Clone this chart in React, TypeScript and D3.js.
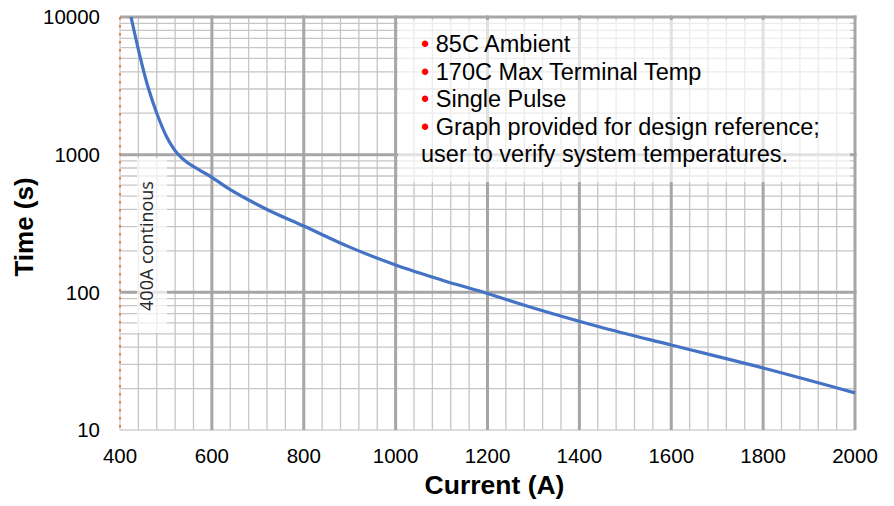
import React from "react";
import * as d3 from "d3";

const currentA = [424, 444, 461, 480, 502, 524, 545, 574, 600, 639, 720, 800, 900, 1000, 1100, 1200, 1300, 1445, 1600, 1800, 2000];
const timeS = [10000, 5100, 3100, 2000, 1340, 1030, 885, 770, 685, 560, 400, 303, 213, 158, 123, 98, 77, 56, 41.4, 28.2, 18.6];
const xTicks = [400, 600, 800, 1000, 1200, 1400, 1600, 1800, 2000];
const yTicks = [10, 100, 1000, 10000];
const notes = ["85C Ambient", "170C Max Terminal Temp", "Single Pulse", "Graph provided for design reference;"];
const noteTail = "user to verify system temperatures.";
const continuousLabel = "400A continous";
const continuousA = 400;

const W = 894, H = 506;
const L = 120, R = 855, T = 17, B = 430;

export default function App() {
  const x = d3.scaleLinear().domain([400, 2000]).range([L, R]);
  const y = d3.scaleLog().domain([10, 10000]).range([B, T]);

  const minorX: number[] = d3.range(440, 2000, 40).filter((v) => v % 200 !== 0);
  const minorY: number[] = [];
  [10, 100, 1000].forEach((d) => {
    for (let k = 2; k <= 9; k++) minorY.push(d * k);
  });
  const majorX = xTicks.filter((v) => v !== 400);
  const majorY = yTicks.filter((v) => v !== 10);

  const line = d3
    .line<number>()
    .x((_, i) => x(currentA[i]))
    .y((d) => y(d))
    .curve(d3.curveCatmullRom.alpha(0.5));

  const font = "'Liberation Sans', Arial, sans-serif";

  return (
    <svg width={W} height={H} style={{ position: "absolute", left: 0, top: 0, background: "#fff" }} fontFamily={font}>
      <rect x={0} y={0} width={W} height={H} fill="#fff" />
      {/* minor grid */}
      {minorX.map((v) => (
        <line key={"mx" + v} x1={x(v)} x2={x(v)} y1={T} y2={B} stroke="#c6c6c6" strokeWidth={1.3} />
      ))}
      {minorY.map((v) => (
        <line key={"my" + v} x1={L} x2={R} y1={y(v)} y2={y(v)} stroke="#c6c6c6" strokeWidth={1.3} />
      ))}
      {/* axis lines */}
      <line x1={L} x2={R} y1={B} y2={B} stroke="#d0d0d0" strokeWidth={1.3} />
      <line x1={L} x2={L} y1={T} y2={B} stroke="#d0d0d0" strokeWidth={1.3} />
      {/* major grid */}
      {majorX.map((v) => (
        <line key={"Mx" + v} x1={x(v)} x2={x(v)} y1={T - 1.5} y2={B} stroke="#a6a6a6" strokeWidth={3} />
      ))}
      {majorY.map((v) => (
        <line key={"My" + v} x1={L} x2={R + 1.5} y1={y(v)} y2={y(v)} stroke="#a6a6a6" strokeWidth={3} />
      ))}
      {/* notes box */}
      <rect x={398} y={20} width={452} height={162} fill="#fff" fillOpacity={0.66} />
      {/* continuous label box */}
      <rect x={137} y={158} width={30} height={175} fill="#fff" fillOpacity={0.7} />
      {/* 400A continuous line */}
      <line
        x1={x(continuousA)}
        x2={x(continuousA)}
        y1={T}
        y2={B}
        stroke="#ed7d31"
        strokeWidth={2}
        strokeDasharray="2.5 5.5"
      />
      {/* curve */}
      <path d={line(timeS) || ""} fill="none" stroke="#4472c4" strokeWidth={3.2} />
      {/* continuous label */}
      <text
        transform={`translate(153,246) rotate(-90)`}
        textAnchor="middle"
        fontFamily="'Open Sans', sans-serif"
        fontSize={18}
        fill="#262626"
      >
        {continuousLabel}
      </text>
      {/* notes */}
      {notes.map((n, i) => (
        <text key={n} x={421} y={52 + i * 27.5} fontSize={23.5} fill="#000">
          <tspan fill="#ff0000">•</tspan>
          <tspan> {n}</tspan>
        </text>
      ))}
      <text x={421} y={52 + 4 * 27.5} fontSize={23.5} fill="#000">
        {noteTail}
      </text>
      {/* y tick labels */}
      {yTicks.map((v) => (
        <text key={"yt" + v} x={100} y={y(v)} dy="0.36em" textAnchor="end" fontSize={20.5} fill="#000">
          {v}
        </text>
      ))}
      {/* x tick labels */}
      {xTicks.map((v) => (
        <text key={"xt" + v} x={x(v)} y={463} textAnchor="middle" fontSize={20.5} fill="#000">
          {v}
        </text>
      ))}
      {/* axis titles */}
      <text x={(L + R) / 2 + 7} y={494} textAnchor="middle" fontSize={26.5} fontWeight="bold" fill="#000">
        Current (A)
      </text>
      <text transform={`translate(33,227) rotate(-90)`} textAnchor="middle" fontSize={26} fontWeight="bold" fill="#000">
        Time (s)
      </text>
    </svg>
  );
}
